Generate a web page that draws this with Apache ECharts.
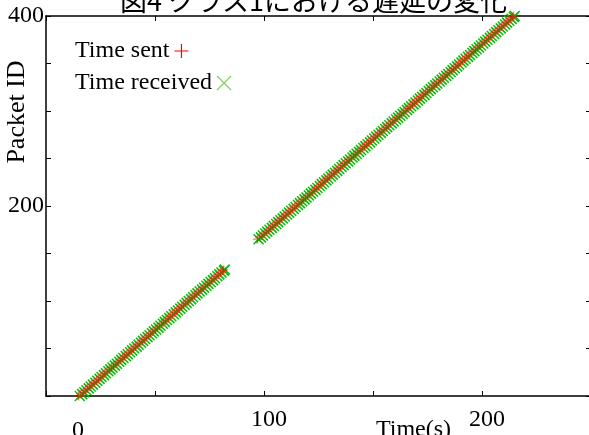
<!DOCTYPE html>
<html>
<head>
<meta charset="utf-8">
<script src="https://cdn.jsdelivr.net/npm/echarts@6/dist/echarts.min.js"></script>
<style>
html, body { margin: 0; padding: 0; background: #fff; }
#main { width: 589px; height: 435px; }
</style>
</head>
<body>
<div id="main"></div>
<script>
// packet IDs and times (s), first run before the gap
var ids1 = [0, 2, 4, 6, 8, 10, 12, 14, 16, 18, 20, 22, 24, 26, 28, 30, 32, 34, 36, 38,
    40, 42, 44, 46, 48, 50, 52, 54, 56, 58, 60, 62, 64, 66, 68, 70, 72, 74, 76, 78,
    80, 82, 84, 86, 88, 90, 92, 94, 96, 98, 100, 102, 104, 106, 108, 110, 112, 114, 116, 118,
    120, 122, 124, 126, 128, 130, 132, 133];
var sent1 = [15.0, 16.0, 17.1, 18.0, 19.0, 20.1, 21.0, 22.0, 23.1, 24.0, 25.0, 26.1, 27.0, 28.0, 29.1, 30.0, 31.0, 32.1, 33.0, 34.0,
    35.1, 36.0, 37.0, 38.1, 39.0, 40.0, 41.1, 42.0, 43.0, 44.1, 45.0, 46.0, 47.1, 48.0, 49.0, 50.1, 51.0, 52.0, 53.1, 54.0,
    55.0, 56.1, 57.0, 58.0, 59.1, 60.0, 61.0, 62.1, 63.0, 64.0, 65.1, 66.0, 67.0, 68.1, 69.0, 70.0, 71.1, 72.0, 73.0, 74.1,
    75.0, 76.0, 77.1, 78.0, 79.0, 80.1, 81.0, 81.5];
var recv1 = [15.5, 16.6, 17.6, 18.5, 19.6, 20.5, 21.5, 22.6, 23.5, 24.6, 25.5, 26.6, 27.5, 28.6, 29.5, 30.5, 31.6, 32.5, 33.6, 34.5,
    35.5, 36.6, 37.5, 38.6, 39.5, 40.5, 41.6, 42.5, 43.6, 44.5, 45.5, 46.6, 47.5, 48.6, 49.5, 50.5, 51.6, 52.5, 53.6, 54.5,
    55.5, 56.6, 57.5, 58.6, 59.5, 60.5, 61.6, 62.5, 63.6, 64.5, 65.5, 66.6, 67.5, 68.6, 69.5, 70.5, 71.6, 72.5, 73.6, 74.5,
    75.5, 76.6, 77.5, 78.6, 79.5, 80.5, 81.6, 82.0];

// second run after the gap
var ids2 = [165, 167, 169, 171, 173, 175, 177, 179, 181, 183,
    185, 187, 189, 191, 193, 195, 197, 199, 201, 203,
    205, 207, 209, 211, 213, 215, 217, 219, 221, 223,
    225, 227, 229, 231, 233, 235, 237, 239, 241, 243,
    245, 247, 249, 251, 253, 255, 257, 259, 261, 263,
    265, 267, 269, 271, 273, 275, 277, 279, 281, 283,
    285, 287, 289, 291, 293, 295, 297, 299, 301, 303,
    305, 307, 309, 311, 313, 315, 317, 319, 321, 323,
    325, 327, 329, 331, 333, 335, 337, 339, 341, 343,
    345, 347, 349, 351, 353, 355, 357, 359, 361, 363,
    365, 367, 369, 371, 373, 375, 377, 379, 381, 383,
    385, 387, 389, 391, 393, 395, 397, 399, 400];
var sent2 = [97.0, 98.0, 99.1, 100.0, 101.0, 102.1, 103.0, 104.0, 105.1, 106.0,
    107.0, 108.1, 109.0, 110.0, 111.1, 112.0, 113.0, 114.1, 115.0, 116.0,
    117.1, 118.0, 119.0, 120.1, 121.0, 122.0, 123.1, 124.0, 125.0, 126.1,
    127.0, 128.0, 129.1, 130.0, 131.0, 132.1, 133.0, 134.0, 135.1, 136.0,
    137.0, 138.1, 139.0, 140.0, 141.1, 142.0, 143.0, 144.1, 145.0, 146.0,
    147.1, 148.0, 149.0, 150.1, 151.0, 152.0, 153.1, 154.0, 155.0, 156.1,
    157.0, 158.0, 159.1, 160.0, 161.0, 162.1, 163.0, 164.0, 165.1, 166.0,
    167.0, 168.1, 169.0, 170.0, 171.1, 172.0, 173.0, 174.1, 175.0, 176.0,
    177.1, 178.0, 179.0, 180.1, 181.0, 182.0, 183.1, 184.0, 185.0, 186.1,
    187.0, 188.0, 189.1, 190.0, 191.0, 192.1, 193.0, 194.0, 195.1, 196.0,
    197.0, 198.1, 199.0, 200.0, 201.1, 202.0, 203.0, 204.1, 205.0, 206.0,
    207.1, 208.0, 209.0, 210.1, 211.0, 212.0, 213.1, 214.0, 214.5];
var recv2 = [97.5, 98.6, 99.5, 100.6, 101.5, 102.5, 103.6, 104.5, 105.6, 106.5,
    107.5, 108.6, 109.5, 110.6, 111.5, 112.5, 113.6, 114.5, 115.6, 116.5,
    117.5, 118.6, 119.5, 120.6, 121.5, 122.5, 123.6, 124.5, 125.6, 126.5,
    127.5, 128.6, 129.5, 130.6, 131.5, 132.5, 133.6, 134.5, 135.6, 136.5,
    137.5, 138.6, 139.5, 140.6, 141.5, 142.5, 143.6, 144.5, 145.6, 146.5,
    147.5, 148.6, 149.5, 150.6, 151.5, 152.5, 153.6, 154.5, 155.6, 156.5,
    157.5, 158.6, 159.5, 160.6, 161.5, 162.5, 163.6, 164.5, 165.6, 166.5,
    167.5, 168.6, 169.5, 170.6, 171.5, 172.5, 173.6, 174.5, 175.6, 176.5,
    177.5, 178.6, 179.5, 180.6, 181.5, 182.5, 183.6, 184.5, 185.6, 186.5,
    187.5, 188.6, 189.5, 190.6, 191.5, 192.5, 193.6, 194.5, 195.6, 196.5,
    197.5, 198.6, 199.5, 200.6, 201.5, 202.5, 203.6, 204.5, 205.6, 206.5,
    207.5, 208.6, 209.5, 210.6, 211.5, 212.5, 213.6, 214.6, 215.0];

// tick labels as printed (the x labels sit a little off their ticks in the original)
var xLabelAt = [14.7, 102.3, 202.3];
var xLabelText = ['0', '100', '200'];
var yLabelShown = [200, 400];

var titleText = '図4 クラス1における遅延の変化';
var PLUS = 'path://M0,5L10,5M5,0L5,10';
var CROSS = 'path://M0,0L10,10M10,0L0,10';
var SERIF = '"Liberation Serif", "DejaVu Serif", serif';

function pairs(ts, ids) {
    var out = [];
    for (var i = 0; i < ts.length; i++) out.push([ts[i], ids[i]]);
    return out;
}
var sentData = pairs(sent1, ids1).concat(pairs(sent2, ids2));
var recvData = pairs(recv1, ids1).concat(pairs(recv2, ids2));

function legendBox(name, icon, color, top) {
    return {
        orient: 'vertical',
        left: 70,
        top: top,
        align: 'right',
        itemWidth: 14,
        itemHeight: 14,
        textStyle: { fontFamily: SERIF, fontSize: 24, color: '#000' },
        data: [{ name: name, icon: icon, itemStyle: { color: 'none', borderColor: color, borderWidth: 1.2, opacity: 1 } }]
    };
}

function frameAxis(extra) {
    var a = {
        type: 'value',
        splitLine: { show: false },
        axisLine: { onZero: false, lineStyle: { color: '#000', width: 1.5 } },
        axisTick: { inside: true, length: 5, lineStyle: { color: '#000' } },
        axisLabel: { show: false },
        nameMoveOverlap: false
    };
    for (var k in extra) a[k] = extra[k];
    return a;
}

var chart = echarts.init(document.getElementById('main'));
var option = {
    animation: false,
    backgroundColor: '#fff',
    title: {
        text: titleText,
        left: 115,
        top: -18,
        textStyle: { fontFamily: '"Noto Sans CJK JP"', fontSize: 27, fontWeight: 'normal', color: '#000' }
    },
    legend: [
        legendBox('Time sent', PLUS, '#ff0000', 34),
        legendBox('Time received', CROSS, '#7ed35a', 66)
    ],
    grid: { left: 46, top: 16, right: -2, bottom: 39, outerBoundsMode: 'none', containLabel: false },
    xAxis: [
        frameAxis({
            position: 'bottom',
            min: 0, max: 250, interval: 50,
            axisLabel: {
                customValues: xLabelAt,
                margin: 12,
                fontFamily: SERIF, fontSize: 24, color: '#000',
                formatter: function (v) {
                    var t = xLabelText[xLabelAt.indexOf(v)];
                    return t === '0' ? '{lo|' + t + '}' : t;
                },
                rich: { lo: { fontFamily: SERIF, fontSize: 24, color: '#000', padding: [11, 0, 0, 0] } }
            },
            name: 'Time(s)',
            nameLocation: 'middle',
            nameGap: 22,
            nameTextStyle: { fontFamily: SERIF, fontSize: 24, color: '#000', padding: [0, 0, 0, 190] }
        }),
        frameAxis({ position: 'top', min: 0, max: 250, interval: 50 })
    ],
    yAxis: [
        frameAxis({
            position: 'left',
            min: 0, max: 400, interval: 50,
            axisLabel: {
                margin: 2,
                fontFamily: SERIF, fontSize: 24, color: '#000',
                formatter: function (v) { return yLabelShown.indexOf(v) >= 0 ? String(v) : ''; }
            },
            name: 'Packet ID',
            nameLocation: 'middle',
            nameGap: 16,
            nameRotate: 90,
            nameTextStyle: { fontFamily: SERIF, fontSize: 26, color: '#000', padding: [0, 0, 0, 188] }
        }),
        frameAxis({ position: 'right', min: 0, max: 400, interval: 50 })
    ],
    series: [
        {
            name: 'Time received',
            type: 'scatter',
            symbol: CROSS,
            symbolSize: 10,
            itemStyle: { color: 'none', borderColor: '#00c000', borderWidth: 1.5, opacity: 1 },
            data: recvData
        },
        {
            name: 'Time sent',
            type: 'scatter',
            symbol: PLUS,
            symbolSize: 9,
            itemStyle: { color: 'none', borderColor: '#ff0000', borderWidth: 1.5, opacity: 0.45 },
            data: sentData
        }
    ]
};
chart.setOption(option);
</script>
</body>
</html>
